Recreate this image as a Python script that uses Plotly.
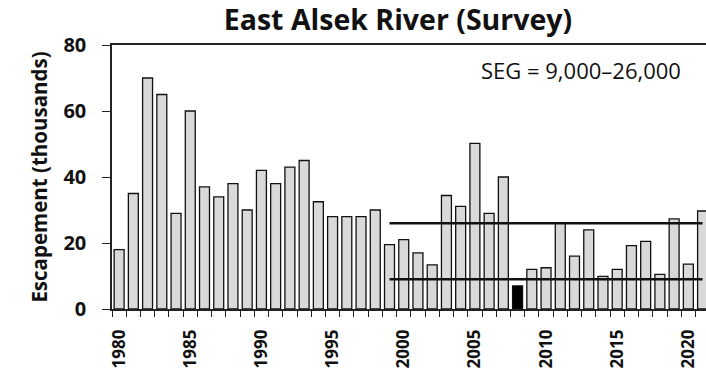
import plotly.graph_objects as go

years = list(range(1980, 2022))
escapement = [
    18, 35, 70, 65, 29, 60, 37, 34, 38, 30,
    42, 38, 43, 45, 32.5, 28, 28, 28, 30, 19.5,
    21, 17, 13.4, 34.4, 31.1, 50.2, 29, 40, 7, 12,
    12.5, 26, 16, 24, 9.9, 12, 19.2, 20.5, 10.5, 27.3,
    13.6, 29.7,
]
highlight_year = 2008
seg_years = [1999, 2021]
seg_lower = 9
seg_upper = 26

fill = ["#000000" if y == highlight_year else "#d9d9d9" for y in years]
font_family = "Open Sans"

fig = go.Figure()
fig.add_bar(
    x=years,
    y=escapement,
    width=0.7,
    marker=dict(color=fill, line=dict(color="#111", width=1.3)),
    showlegend=False,
)
for level in [seg_upper, seg_lower]:
    fig.add_scatter(
        x=seg_years,
        y=[level, level],
        mode="lines",
        line=dict(color="#111", width=2.6),
        showlegend=False,
        cliponaxis=False,
    )

fig.add_annotation(
    text="SEG = 9,000–26,000",
    xref="paper", yref="paper",
    x=(683 - 112) / 594, y=(309 - 70) / 264, xanchor="right", yanchor="middle",
    showarrow=False,
    font=dict(family=font_family, size=22, color="#111"),
)

fig.update_layout(
    width=706,
    height=370,
    margin=dict(l=112, r=0, t=45, b=61),
    plot_bgcolor="white",
    paper_bgcolor="white",
    font=dict(family=font_family, color="#111"),
    title=dict(
        text="<b>East Alsek River (Survey)</b>",
        x=398 / 706, xanchor="center", y=1 - 20 / 370, yanchor="middle",
        font=dict(size=28.5, color="#111"),
    ),
    bargap=0.3,
)
fig.update_xaxes(
    range=[1979.5, 2021.24],
    tickvals=list(range(1980, 2021, 5)),
    ticks="",
    tickangle=-90,
    tickfont=dict(size=17, family=font_family, color="#111", weight="bold"),
    ticklabelstandoff=12,
    showline=True, linecolor="#222", linewidth=1.5, mirror=True,
    showgrid=False, zeroline=False,
    minor=dict(ticks="outside", tick0=1979.5, dtick=1, ticklen=6, tickcolor="#222", tickwidth=1.3),
)
fig.update_yaxes(
    range=[0, 80],
    tickvals=[0, 20, 40, 60, 80],
    ticks="outside", ticklen=8, tickcolor="#222", tickwidth=1.3,
    tickfont=dict(size=20, family=font_family, color="#111", weight="bold"),
    ticklabelstandoff=12,
    showline=True, linecolor="#222", linewidth=1.5,
    showgrid=False, zeroline=False,
    title=dict(text="<b>Escapement (thousands)</b>", font=dict(size=20.5), standoff=10),
)

fig.write_html(
    "out.html",
    config={"displayModeBar": False},
    post_script="document.body.style.margin='0';",
)
